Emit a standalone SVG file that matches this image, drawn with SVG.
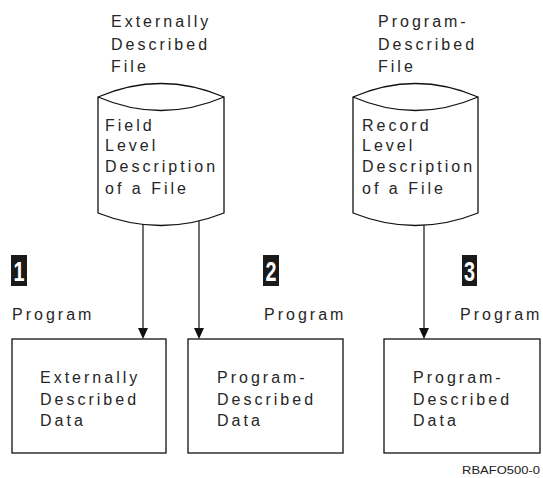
<svg xmlns="http://www.w3.org/2000/svg" width="543" height="478" viewBox="0 0 543 478">
<style>
.t{font-family:"Liberation Sans",Arial,sans-serif;font-size:16px;letter-spacing:3px;fill:#262626}
.s{fill:none;stroke:#111;stroke-width:1.3}
.b{fill:#fff;stroke:#111;stroke-width:1.3}
.badge{fill:#1a1a1a}
.n{font-family:"Liberation Sans",Arial,sans-serif;font-weight:bold;font-size:27px;fill:#fff}
.c{fill:none;stroke:#111;stroke-width:1.2}
.ah{fill:#111}
.id{font-family:"Liberation Sans",Arial,sans-serif;font-size:11.5px;fill:#222}
</style>
<rect width="543" height="478" fill="#fff"/>
<g id="file1">
<text class="t" x="111" y="27">Externally</text>
<text class="t" x="111" y="50">Described</text>
<text class="t" x="111" y="72">File</text>
<path class="b" d="M98,97 Q161,70 224,97 L224,213 Q161,238 98,213 Z"/>
<path class="s" d="M98,97 Q161,124 224,97"/>
<text class="t" x="105" y="130.5">Field</text>
<text class="t" x="105" y="151">Level</text>
<text class="t" x="105" y="172">Description</text>
<text class="t" x="105" y="194">of a File</text>
</g>
<g id="file2">
<text class="t" x="378" y="27">Program-</text>
<text class="t" x="378" y="50">Described</text>
<text class="t" x="378" y="72">File</text>
<path class="b" d="M353,97 Q415.5,70 478,97 L478,213 Q415.5,238 353,213 Z"/>
<path class="s" d="M353,97 Q415.5,124 478,97"/>
<text class="t" x="362" y="130.5">Record</text>
<text class="t" x="362" y="151">Level</text>
<text class="t" x="362" y="172">Description</text>
<text class="t" x="362" y="194">of a File</text>
</g>
<g id="label1">
<rect class="badge" x="11" y="255" width="16" height="31"/>
<text class="n" x="19" y="280.5" text-anchor="middle" textLength="11" lengthAdjust="spacingAndGlyphs">1</text>
<text class="t" x="12" y="320">Program</text>
</g>
<g id="label2">
<rect class="badge" x="263" y="255" width="16" height="31"/>
<text class="n" x="271" y="280.5" text-anchor="middle" textLength="11" lengthAdjust="spacingAndGlyphs">2</text>
<text class="t" x="264" y="320">Program</text>
</g>
<g id="label3">
<rect class="badge" x="462" y="255" width="15" height="31"/>
<text class="n" x="469.5" y="280.5" text-anchor="middle" textLength="11" lengthAdjust="spacingAndGlyphs">3</text>
<text class="t" x="460" y="320">Program</text>
</g>
<g id="data1">
<rect class="b" x="12" y="339" width="154" height="114"/>
<text class="t" x="40" y="383">Externally</text>
<text class="t" x="40" y="404.5">Described</text>
<text class="t" x="40" y="425.5">Data</text>
</g>
<g id="data2">
<rect class="b" x="188" y="339" width="155" height="114"/>
<text class="t" x="217" y="383">Program-</text>
<text class="t" x="217" y="404.5">Described</text>
<text class="t" x="217" y="425.5">Data</text>
</g>
<g id="data3">
<rect class="b" x="384" y="339" width="156" height="114"/>
<text class="t" x="413" y="383">Program-</text>
<text class="t" x="413" y="404.5">Described</text>
<text class="t" x="413" y="425.5">Data</text>
</g>
<g id="connectors">
<line class="c" x1="143" y1="224.5" x2="143" y2="330"/>
<polygon class="ah" points="138,328 148,328 143,339"/>
<line class="c" x1="199" y1="221" x2="199" y2="330"/>
<polygon class="ah" points="194,328 204,328 199,339"/>
<line class="c" x1="424" y1="225" x2="424" y2="330"/>
<polygon class="ah" points="419,328 429,328 424,339"/>
</g>
<text class="id" x="540" y="474" text-anchor="end" textLength="78" lengthAdjust="spacingAndGlyphs">RBAFO500-0</text>
</svg>
